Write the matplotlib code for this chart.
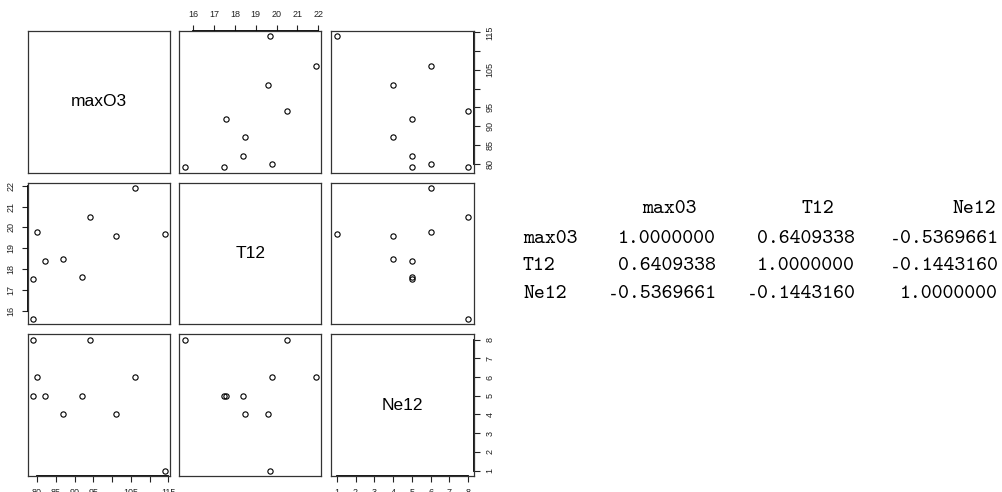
import numpy as np
import matplotlib.pyplot as plt

# ozone data, first ten days
maxO3 = [87, 82, 92, 114, 94, 80, 79, 79, 101, 106]
T12 = [18.5, 18.4, 17.6, 19.7, 20.5, 19.8, 15.6, 17.5, 19.6, 21.9]
Ne12 = [4, 5, 5, 1, 8, 6, 8, 5, 4, 6]

var_names = ['maxO3', 'T12', 'Ne12']
table_names = ['max03', 'T12', 'Ne12']

maxO3_ticks = [80, 85, 90, 95, 100, 105, 110, 115]
maxO3_labels = ['80', '85', '90', '95', '', '105', '', '115']
T12_ticks = [16, 17, 18, 19, 20, 21, 22]
T12_labels = [str(t) for t in T12_ticks]
Ne12_ticks = [1, 2, 3, 4, 5, 6, 7, 8]
Ne12_labels = [str(t) for t in Ne12_ticks]

data = [maxO3, T12, Ne12]
ticks = [maxO3_ticks, T12_ticks, Ne12_ticks]
labels = [maxO3_labels, T12_labels, Ne12_labels]

W, H = 1003, 492
fig = plt.figure(figsize=(W / 100, H / 100), dpi=100)


def frac(x, y):
    return x / W, 1 - y / H


def rng(v):
    lo, hi = min(v), max(v)
    pad = 0.04 * (hi - lo)
    return lo - pad, hi + pad


col_left = [28, 179.5, 331.5]
row_top = [31, 182.7, 334.3]
pw, ph = 142, 141.5

# which panels carry an axis, and on which side (pairs() layout)
axis_sides = {(0, 1): ['top'], (0, 2): ['right'], (1, 0): ['left'],
              (2, 0): ['bottom'], (2, 2): ['bottom', 'right']}
tick_kw = dict(direction='out', length=4.3, width=0.8, pad=4.5,
               labelsize=6.5, colors='#222222')

for i in range(3):
    for j in range(3):
        x0, y1 = frac(col_left[j], row_top[i] + ph)
        ax = fig.add_axes([x0, y1, pw / W, ph / H])
        ax.set_xlim(*rng(data[j]))
        ax.set_ylim(*rng(data[i]))
        for s in ax.spines.values():
            s.set_color('#333333')
            s.set_linewidth(0.9)
        ax.set_xticks([])
        ax.set_yticks([])
        if i == j:
            ax.text(0.5, 0.5, var_names[i], transform=ax.transAxes,
                    ha='center', va='center', fontsize=12.5,
                    family='Liberation Sans')
        else:
            ax.plot(data[j], data[i], 'o', mfc='none', mec='black',
                    ms=3.8, mew=0.8, clip_on=False)
        for side in axis_sides.get((i, j), []):
            if side in ('top', 'bottom'):
                ax.set_xticks(ticks[j])
                ax.set_xticklabels(labels[j])
                ax.tick_params(axis='x', top=(side == 'top'), labeltop=(side == 'top'),
                               bottom=(side == 'bottom'), labelbottom=(side == 'bottom'),
                               **tick_kw)
                yv = 1 if side == 'top' else 0
                ax.plot([ticks[j][0], ticks[j][-1]], [yv, yv], color='black', lw=1.3,
                        transform=ax.get_xaxis_transform(), clip_on=False)
            else:
                ax.set_yticks(ticks[i])
                ax.set_yticklabels(labels[i], rotation=90, va='center')
                ax.tick_params(axis='y', left=(side == 'left'), labelleft=(side == 'left'),
                               right=(side == 'right'), labelright=(side == 'right'),
                               **tick_kw)
                xv = 0 if side == 'left' else 1
                ax.plot([xv, xv], [ticks[i][0], ticks[i][-1]], color='black', lw=1.3,
                        transform=ax.get_yaxis_transform(), clip_on=False)
        for lbl in ax.get_xticklabels() + ax.get_yticklabels():
            lbl.set_family('Liberation Sans')

# printed correlation matrix
corr = np.corrcoef(np.array(data, dtype=float))
mono = dict(family='cmtt10', fontsize=15, color='black', va='center')

header_right = [697, 834, 996]
col_right = [716, 855, 998]
row_y = [239, 266.5, 294]

renderer = fig.canvas.get_renderer()

for k, name in enumerate(table_names):
    fig.text(*frac(header_right[k], 209), name, ha='right', **mono)
for r, name in enumerate(table_names):
    fig.text(*frac(523, row_y[r]), name, ha='left', **mono)
    for c in range(3):
        s = f'{corr[r, c]:.7f}'
        body = fig.text(*frac(col_right[c], row_y[r]), s.lstrip('-'), ha='right', **mono)
        if s.startswith('-'):
            # short typewriter hyphen in the cell before the digits
            bw = body.get_window_extent(renderer).width
            fig.text(*frac(col_right[c] - bw - 5, row_y[r]), '-', ha='center',
                     family='DejaVu Sans Mono', fontsize=13, color='black',
                     va='center')

fig.savefig('out.png', dpi=100)
